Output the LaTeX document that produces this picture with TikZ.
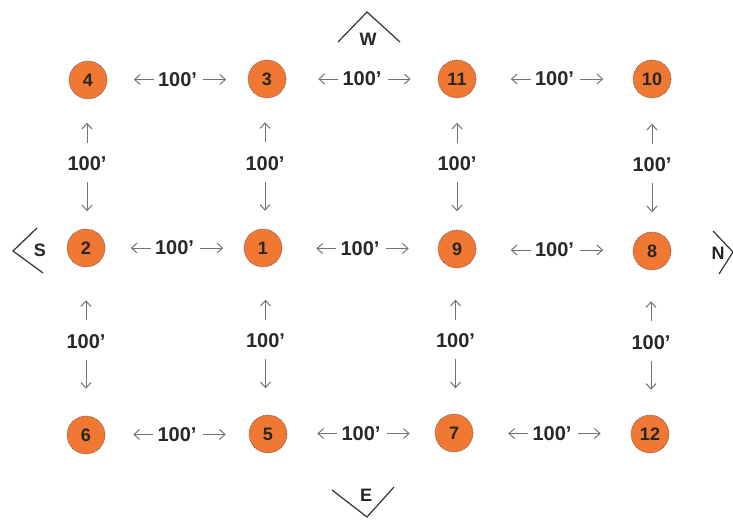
\documentclass[tikz,border=0pt]{standalone}
\usepackage{fontspec}
\setmainfont{Liberation Sans}
\usetikzlibrary{arrows.meta,calc}
\definecolor{myorange}{RGB}{240,120,50}
\definecolor{textgray}{RGB}{40,40,40}
\definecolor{arrowgray}{RGB}{115,115,115}
\newcommand{\hlab}[3]{%
  \node[dist] (#3) at ($(#1)!0.5!(#2)$) {100'};
  \draw[arr] ($(#3.west)+(-3,0)$) -- ++(-20,0);
  \draw[arr] ($(#3.east)+(5,0)$) -- ++(23,0);}
\newcommand{\vlab}[3]{%
  \node[dist] (#3) at ($(#1)!0.5!(#2)$) {100'};
  \draw[arr] ($(#3.north)+(0,-13)$) -- ++(0,-20);
  \draw[arr] ($(#3.south)+(0,10)$) -- ++(0,29);}
\begin{document}
\begin{tikzpicture}[x=1pt,y=-1pt,
  pt/.style={circle,draw=gray!70!black,dash pattern=on 1pt off 1pt,line width=0.6pt,
    fill=myorange,minimum size=38pt,inner sep=0pt,text=black!85,
    font=\bfseries\fontsize{18}{18}\selectfont},
  dist/.style={font=\bfseries\fontsize{20}{20}\selectfont,text=textgray,inner sep=1pt},
  arr/.style={draw=arrowgray,line width=1pt,-{Straight Barb[length=5.5pt,width=10pt]}},
  compass/.style={draw=black!80,line width=1.2pt},
  dir/.style={font=\bfseries\fontsize{18}{18}\selectfont,text=black!85,inner sep=0pt}]
\useasboundingbox (0,0) rectangle (733,519);
% nodes
\node[pt] (n4) at (88,80) {4};
\node[pt] (n3) at (267,79) {3};
\node[pt] (n11) at (457,79) {11};
\node[pt] (n10) at (652,79) {10};
\node[pt] (n2) at (86,248) {2};
\node[pt] (n1) at (263,248) {1};
\node[pt] (n9) at (457,249) {9};
\node[pt] (n8) at (652,251) {8};
\node[pt] (n6) at (86,435) {6};
\node[pt] (n5) at (268,434) {5};
\node[pt] (n7) at (454,433) {7};
\node[pt] (n12) at (650,434) {12};
% horizontal distances
\hlab{n4}{n3}{h1}
\hlab{n3}{n11}{h2}
\hlab{n11}{n10}{h3}
\hlab{n2}{n1}{h4}
\hlab{n1}{n9}{h5}
\hlab{n9}{n8}{h6}
\hlab{n6}{n5}{h7}
\hlab{n5}{n7}{h8}
\hlab{n7}{n12}{h9}
% vertical distances
\vlab{n4}{n2}{v1}
\vlab{n3}{n1}{v2}
\vlab{n11}{n9}{v3}
\vlab{n10}{n8}{v4}
\vlab{n2}{n6}{v5}
\vlab{n1}{n5}{v6}
\vlab{n9}{n7}{v7}
\vlab{n8}{n12}{v8}
% compass
\coordinate (wl) at (338,42); \coordinate (wa) at (367,12); \coordinate (wr) at (400,42);
\draw[compass] (wl) -- (wa) -- (wr);
\node[dir] (W) at (368,39) {W};
\coordinate (su) at (37,228); \coordinate (sa) at (13,251); \coordinate (sd) at (43,273);
\draw[compass] (su) -- (sa) -- (sd);
\node[dir] (S) at (40,250) {S};
\coordinate (nu) at (713,231); \coordinate (na) at (733,252); \coordinate (nd) at (719,274);
\draw[compass] (nu) -- (na) -- (nd);
\node[dir] (N) at (718,253) {N};
\coordinate (el) at (332,490); \coordinate (ea) at (367,517); \coordinate (er) at (394,487);
\draw[compass] (el) -- (ea) -- (er);
\node[dir] (E) at (366,495) {E};
\end{tikzpicture}
\end{document}
